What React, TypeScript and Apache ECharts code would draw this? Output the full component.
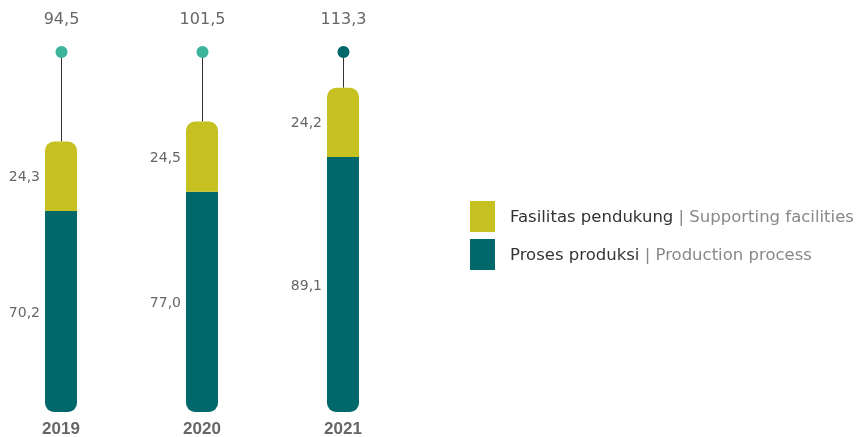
import React, { useEffect, useRef } from "react";
import * as echarts from "echarts";

const years = ["2019", "2020", "2021"];
const productionProcess = [70.2, 77.0, 89.1];
const supportingFacilities = [24.3, 24.5, 24.2];
const totals = [94.5, 101.5, 113.3];

const dotColors = ["#3db59c", "#3db59c", "#00686a"];
const YELLOW = "#c6c020";
const TEAL = "#00686a";
const FONT = "'DejaVu Sans', 'Liberation Sans', Arial, sans-serif";
const BOLD_FONT = "'Liberation Sans', Arial, Helvetica, sans-serif";

const fmt = (v: number) => v.toFixed(1).replace(".", ",");

export default function App() {
  const ref = useRef<HTMLDivElement>(null);
  useEffect(() => {
    if (!ref.current) return;
    const chart = echarts.init(ref.current, undefined, { renderer: "svg" });
    const segLabel = {
      show: true,
      position: "left" as const,
      distance: 5,
      color: "#666",
      fontSize: 14,
      fontFamily: FONT,
      formatter: (p: any) => fmt(p.value),
    };
    chart.setOption({
      animation: false,
      textStyle: { fontFamily: FONT },
      grid: {
        left: 61,
        width: 282,
        top: 40,
        bottom: 25,
        containLabel: false,
        outerBoundsMode: "none",
      },
      xAxis: {
        type: "category",
        data: years,
        boundaryGap: false,
        axisLine: { show: false },
        axisTick: { show: false },
        axisLabel: {
          margin: 8,
          fontSize: 17,
          lineHeight: 16,
          fontWeight: "bold",
          color: "#666",
          fontFamily: BOLD_FONT,
        },
      },
      yAxis: {
        type: "value",
        min: 0,
        max: 130,
        show: false,
        splitLine: { show: false },
      },
      legend: {
        orient: "vertical",
        left: 470,
        top: 201,
        padding: 0,
        itemWidth: 25,
        itemHeight: 31,
        itemGap: 7,
        icon: "rect",
        data: ["Fasilitas pendukung", "Proses produksi"],
        formatter: (name: string) =>
          name === "Fasilitas pendukung"
            ? "{a|Fasilitas pendukung}{b| | Supporting facilities}"
            : "{a|Proses produksi}{b| | Production process}",
        textStyle: {
          padding: [0, 0, 0, 10],
          rich: {
            a: { color: "#333", fontSize: 16.5, fontFamily: FONT },
            b: { color: "#888", fontSize: 16.5, fontFamily: FONT },
          },
        },
      },
      series: [
        {
          name: "Proses produksi",
          type: "bar",
          stack: "total",
          barWidth: 32,
          data: productionProcess,
          itemStyle: { color: TEAL, borderRadius: [0, 0, 9, 9] },
          label: segLabel,
        },
        {
          name: "Fasilitas pendukung",
          type: "bar",
          stack: "total",
          barWidth: 32,
          data: supportingFacilities,
          itemStyle: { color: YELLOW, borderRadius: [9, 9, 0, 0] },
          label: segLabel,
        },
        {
          name: "total",
          type: "custom",
          data: years.map((y, i) => [i, totals[i]]),
          z: 1,
          renderItem: (params: any, api: any) => {
            const idx = api.value(0);
            const pt = api.coord([idx, api.value(1)]);
            const x = Math.round(pt[0]) + 0.5;
            const dotY = 52;
            return {
              type: "group",
              children: [
                {
                  type: "line",
                  shape: { x1: x, y1: dotY, x2: x, y2: pt[1] },
                  style: { stroke: "#333", lineWidth: 1 },
                },
                {
                  type: "circle",
                  shape: { cx: x, cy: dotY, r: 6 },
                  style: { fill: dotColors[idx] },
                },
                {
                  type: "text",
                  x: x,
                  y: 18,
                  style: {
                    text: fmt(api.value(1)),
                    fill: "#666",
                    fontSize: 16,
                    fontFamily: FONT,
                    align: "center",
                    verticalAlign: "middle",
                  },
                },
              ],
            };
          },
        },
      ],
    });
    return () => chart.dispose();
  }, []);
  return (
    <div
      ref={ref}
      style={{ position: "fixed", left: 0, top: 0, width: 858, height: 437 }}
    />
  );
}
